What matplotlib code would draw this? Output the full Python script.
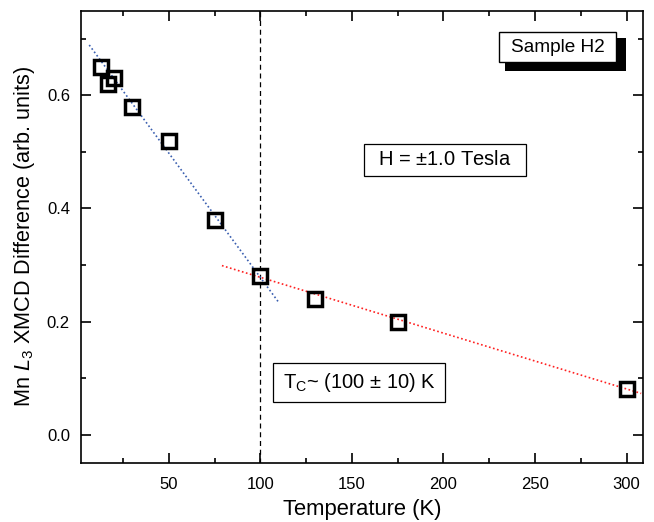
import matplotlib
matplotlib.use("Agg")
import matplotlib.pyplot as plt
from matplotlib.ticker import MultipleLocator
from matplotlib.patches import Rectangle

plt.rcParams['font.family'] = ['Liberation Sans', 'DejaVu Sans']
plt.rcParams['mathtext.fontset'] = 'custom'
plt.rcParams['mathtext.rm'] = 'Liberation Sans'
plt.rcParams['mathtext.it'] = 'Liberation Sans:italic'

# Data
temperature = [13, 17, 20, 30, 50, 75, 100, 130, 175, 300]
xmcd = [0.65, 0.62, 0.63, 0.58, 0.52, 0.38, 0.28, 0.24, 0.20, 0.08]

fit_low_x = [6.5, 110]
fit_low_y = [0.689, 0.234]
fit_high_x = [79, 308]
fit_high_y = [0.299, 0.073]

tc = 100

W, H = 654, 522
fig = plt.figure(figsize=(W / 100, H / 100), dpi=100)
ax = fig.add_axes([81 / W, 1 - 463 / H, (643 - 81) / W, (463 - 10.5) / H])

ax.axvline(tc, color='black', linestyle=(0, (4, 3)), linewidth=0.9, zorder=1)
ax.plot(fit_low_x, fit_low_y, color='#3a5fb0', linestyle=(0, (1, 1.5)), linewidth=1.2, zorder=2)
ax.plot(fit_high_x, fit_high_y, color='#ff2020', linestyle=(0, (1, 1.5)), linewidth=1.2, zorder=2)
ax.plot(temperature, xmcd, linestyle='none', marker='s', markersize=10,
        markerfacecolor='none', markeredgecolor='black', markeredgewidth=2.5, zorder=3)

ax.set_xlim(2, 309)
ax.set_ylim(-0.05, 0.75)
ax.xaxis.set_minor_locator(MultipleLocator(25))
ax.yaxis.set_minor_locator(MultipleLocator(0.1))
ax.set_xticks([50, 100, 150, 200, 250, 300])
ax.set_yticks([0.0, 0.2, 0.4, 0.6])
ax.set_yticklabels(['0.0', '0.2', '0.4', '0.6'])

ax.tick_params(which='both', direction='in', top=True, right=True, labelsize=12, width=1.2)
ax.tick_params(which='major', length=7)
ax.tick_params(which='minor', length=3.5)
ax.tick_params(axis='x', pad=10)
ax.tick_params(axis='y', pad=8)
for s in ax.spines.values():
    s.set_linewidth(1.2)

ax.set_xlabel('Temperature (K)', fontsize=15.8, labelpad=5)
ax.set_ylabel(r'Mn $\mathit{L}_3$ XMCD Difference (arb. units)', fontsize=15.6, labelpad=7)


def fig_rect(x0, y0, x1, y1, **kw):
    # pixel coordinates (image origin top-left) -> figure fraction
    r = Rectangle((x0 / W, 1 - y1 / H), (x1 - x0) / W, (y1 - y0) / H,
                  transform=fig.transFigure, **kw)
    fig.add_artist(r)
    return r


# Sample H2 box with shadow
fig_rect(505, 38, 626, 71, facecolor='black', edgecolor='none', zorder=4)
fig_rect(499, 32, 616, 62, facecolor='white', edgecolor='black', linewidth=1.0, zorder=5)
fig.text(557.5 / W, 1 - 47.5 / H, 'Sample H2', fontsize=13.7, ha='center', va='center', zorder=6)

# H box
fig_rect(364, 144, 526, 176, facecolor='white', edgecolor='black', linewidth=0.9, zorder=5)
fig.text(445 / W, 1 - 160 / H, r'H = $\pm$1.0 Tesla', fontsize=14.5, ha='center', va='center', zorder=6)

# Tc box
fig_rect(273, 363, 445, 402, facecolor='white', edgecolor='black', linewidth=0.9, zorder=5)
fig.text(359 / W, 1 - 382.5 / H, r'T$_\mathrm{C}$~ (100 $\pm$ 10) K', fontsize=14.5,
         ha='center', va='center', zorder=6)

fig.savefig('out.png', dpi=100)
